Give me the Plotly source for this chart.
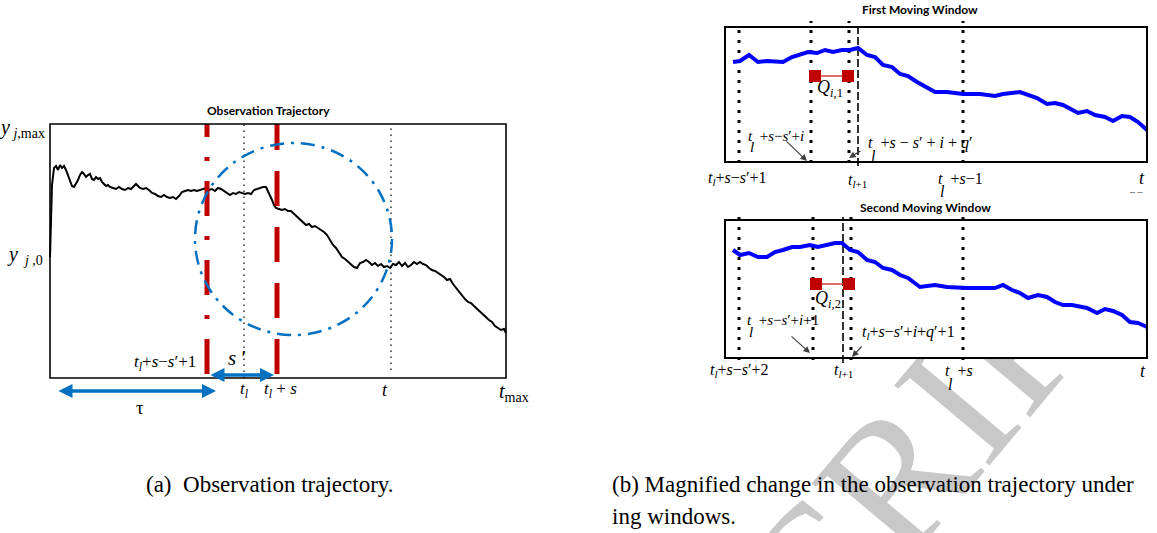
import plotly.graph_objects as go

W, H = 1157, 533
SERIF = "Liberation Serif"
SANS = "Lato"
NB = "\u00a0"

# ---------------- panel (a): observation trajectory ----------------
traj_t = [0, 1, 2, 4, 6, 8, 10, 12, 14, 16, 18, 20, 22, 24, 26, 28, 30, 32, 34, 36,
          38, 40, 42, 44, 46, 48, 50, 52, 54, 56, 58, 60, 63, 66, 69, 72, 75, 78, 81, 84,
          86, 88, 90, 93, 96, 99, 102, 105, 108, 111, 114, 117, 120, 123, 126, 129, 132, 135, 138, 141,
          144, 147, 150, 153, 156, 159, 162, 165, 168, 171, 174, 177, 180, 183, 186, 189, 192, 195, 198, 201,
          204, 207, 210, 213, 216, 218, 220, 222, 224, 226, 229, 232, 235, 238, 241, 244, 247, 250, 253, 256,
          259, 262, 265, 268, 271, 274, 277, 280, 283, 286, 289, 292, 295, 298, 301, 304, 307, 310, 313, 316,
          319, 322, 325, 328, 331, 334, 337, 340, 343, 346, 349, 352, 355, 358, 361, 364, 367, 370, 373, 376,
          379, 382, 385, 388, 391, 394, 397, 400, 403, 406, 409, 412, 415, 418, 421, 424, 427, 430, 433, 436,
          439, 442, 445, 448, 451, 454, 456]
traj_y = [121, 158, 193, 210, 212, 208, 213, 210, 212, 208, 203, 198, 192, 191, 194, 198, 203, 206, 204, 201,
          203, 204, 199, 198, 201, 199, 200, 196, 194, 192, 193, 191, 190, 189, 191, 189, 188, 190, 189, 192,
          194, 192, 190, 189, 190, 188, 185, 184, 182, 181, 183, 181, 180, 181, 179, 182, 186, 187, 188, 187,
          188, 187, 188, 189, 190, 188, 189, 187, 190, 189, 187, 185, 183, 185, 184, 186, 185, 184, 185, 184,
          188, 189, 190, 191, 191, 187, 182, 178, 173, 170, 169, 168, 169, 167, 167, 164, 161, 158, 156, 153,
          154, 151, 152, 150, 148, 146, 143, 138, 133, 130, 126, 121, 119, 116, 114, 111, 110, 115, 116, 118,
          116, 113, 115, 112, 114, 111, 112, 110, 114, 113, 116, 112, 115, 111, 113, 116, 114, 116, 114, 113,
          110, 108, 107, 105, 103, 101, 98, 99, 94, 90, 86, 82, 79, 76, 75, 72, 69, 66, 63, 61,
          58, 56, 52, 50, 48, 49, 45]
a_tmax = 456
a_ymax = 254
mark_start = 157   # t_l + s - s' + 1
mark_tl = 194      # t_l
mark_tls = 227     # t_l + s
mark_t = 341       # t
level_ymax = 250
level_y0 = 123
circle_t = [145, 342]
circle_y = [43, 235]
tau_span = [7, 166]
sprime_span = [159, 224]

# ---------------- panel (b): moving windows ----------------
w1_x = [8, 15, 24, 33, 42, 50, 58, 67, 75, 83, 92, 100, 108, 117, 125, 133, 142, 150, 158, 167,
        175, 183, 192, 202, 210, 222, 238, 255, 270, 278, 295, 312, 322, 330, 338, 353, 362, 370, 380, 388,
        397, 405, 413, 422]
w1_y = [100, 101, 107, 100, 101, 100, 100, 105, 107, 110, 109, 112, 110, 112, 112, 114, 107, 105, 97, 95,
        88, 86, 80, 74, 70, 70, 68, 68, 66, 68, 70, 64, 58, 59, 57, 49, 51, 47, 45, 41,
        46, 45, 40, 32]
w1_dotted = [14, 86, 124, 238]
w1_dotted_top = [134, 141, 141, 141]
w1_dashed = 133
w1_q_x = [90, 123]
w1_q_y = [86, 86]
w1_box = [422, 135]

w2_x = [8, 15, 24, 33, 42, 50, 58, 67, 75, 85, 93, 102, 110, 117, 125, 133, 142, 150, 158, 167,
        175, 183, 195, 210, 222, 242, 252, 260, 270, 278, 287, 295, 303, 313, 322, 330, 338, 347, 362, 372,
        380, 388, 397, 405, 413, 422]
w2_y = [108, 103, 105, 101, 101, 106, 108, 111, 111, 113, 111, 113, 115, 115, 108, 106, 98, 96, 90, 88,
        83, 80, 71, 73, 71, 70, 70, 71, 70, 73, 68, 65, 60, 63, 61, 56, 53, 53, 50, 45,
        49, 47, 43, 36, 35, 31]
w2_dotted = [14, 88, 126, 238]
w2_dotted_top = [143, 143, 143, 143]
w2_dashed = 118
w2_q_x = [91, 124]
w2_q_y = [74, 74]
w2_box = [422, 138]

# ---------------- figure ----------------
fig = go.Figure()

RED = "#C00000"
BLUE_A = "#0070C0"

# panel (a)
fig.add_trace(go.Scatter(x=traj_t, y=traj_y, mode="lines", line=dict(color="black", width=2),
                         xaxis="x", yaxis="y", hoverinfo="skip"))
fig.add_trace(go.Scatter(x=[mark_start, mark_start], y=[4, a_ymax], mode="lines",
                         line=dict(color=RED, width=5, dash="35px,20px,4px,20px"),
                         xaxis="x", yaxis="y", hoverinfo="skip"))
fig.add_trace(go.Scatter(x=[mark_tls, mark_tls], y=[4, a_ymax], mode="lines",
                         line=dict(color=RED, width=5, dash="35px,21px"),
                         xaxis="x", yaxis="y", hoverinfo="skip"))
for m, lo in [(mark_tl, 0), (mark_t, 8)]:
    fig.add_trace(go.Scatter(x=[m, m], y=[lo, a_ymax], mode="lines",
                             line=dict(color="black", width=1.2, dash="1.5px,4.5px"),
                             xaxis="x", yaxis="y", hoverinfo="skip"))

# panel (b) windows
def add_window(xs, ys, dotted, dotted_top, dashed, qx, qy, xa, ya, lo):
    for d, top in zip(dotted, dotted_top):
        fig.add_trace(go.Scatter(x=[d, d], y=[lo, top], mode="lines",
                                 line=dict(color="black", width=3, dash="3px,7px"),
                                 xaxis=xa, yaxis=ya, hoverinfo="skip"))
    fig.add_trace(go.Scatter(x=[dashed, dashed], y=[lo - 3, top - 2], mode="lines",
                             line=dict(color="black", width=1.6, dash="8px,3px"),
                             xaxis=xa, yaxis=ya, hoverinfo="skip"))
    fig.add_trace(go.Scatter(x=xs, y=ys, mode="lines", line=dict(color="#0000FF", width=4),
                             xaxis=xa, yaxis=ya, hoverinfo="skip"))
    fig.add_trace(go.Scatter(x=qx, y=qy, mode="lines+markers",
                             line=dict(color="#D04040", width=1.5),
                             marker=dict(symbol="square", size=12, color=RED),
                             xaxis=xa, yaxis=ya, hoverinfo="skip"))

add_window(w1_x, w1_y, w1_dotted, w1_dotted_top, w1_dashed, w1_q_x, w1_q_y, "x2", "y2", -1)
add_window(w2_x, w2_y, w2_dotted, w2_dotted_top, w2_dashed, w2_q_x, w2_q_y, "x3", "y3", -2)

# ---------------- shapes ----------------
def px(x):
    return x / W

def py(y):
    return 1 - y / H

shapes = [
    # watermark (under everything)
    dict(type="rect", xref="paper", yref="paper", x0=px(922), x1=px(938), y0=py(412), y1=py(396),
         line=dict(width=0), fillcolor="rgba(0,0,0,0)", layer="below",
         label=dict(text="CRIPT", font=dict(family=SERIF, size=190, color="#c8c8c8"),
                    textangle=-50, textposition="middle center")),
    # the windows' figure area hides the watermark
    dict(type="rect", xref="paper", yref="paper", x0=px(700), x1=px(1157), y0=py(359), y1=1.0,
         line=dict(width=0), fillcolor="white", layer="below"),
    # left frame and circle
    dict(type="rect", xref="x", yref="y", x0=0, x1=a_tmax, y0=0, y1=a_ymax,
         line=dict(color="black", width=1.6), layer="above"),
    dict(type="circle", xref="x", yref="y", x0=circle_t[0], x1=circle_t[1], y0=circle_y[0], y1=circle_y[1],
         line=dict(color=BLUE_A, width=2.5, dash="14px,7px,3px,7px")),
    # window frames
    dict(type="rect", xref="x2", yref="y2", x0=0, x1=w1_box[0], y0=0, y1=w1_box[1],
         line=dict(color="black", width=2), layer="above"),
    dict(type="rect", xref="x3", yref="y3", x0=0, x1=w2_box[0], y0=0, y1=w2_box[1],
         line=dict(color="black", width=2), layer="above"),
]

# ---------------- annotations ----------------
ann = []

def txt(x, y, text, ref="", size=17, xanchor="center", family=SERIF, color="black"):
    ann.append(dict(x=x, y=y, xref="x" + ref, yref="y" + ref, text=text, showarrow=False,
                    xanchor=xanchor, yanchor="middle", font=dict(family=family, size=size, color=color)))

def arrow(head, tail, ref="", color="#404040", width=1.2, size=1.1, both=False):
    d = dict(x=head[0], y=head[1], ax=tail[0], ay=tail[1], xref="x" + ref, yref="y" + ref,
             axref="x" + ref, ayref="y" + ref, text="", showarrow=True, arrowhead=2,
             arrowsize=size, arrowwidth=width, arrowcolor=color)
    if both:
        d.update(arrowside="end+start", startarrowhead=2, startarrowsize=size)
    ann.append(d)

I = lambda s: "<i>" + s + "</i>"

# panel (a)
txt(218, 268, "<b>Observation Trajectory</b>", size=12, family=SANS)
txt(-3, level_ymax, I("y") + "<sub>" + NB + I("j") + ",max</sub>", size=20, xanchor="right")
txt(-5, level_y0, I("y") + "<sub>" + NB + NB + I("j") + NB + ",0</sub>", size=20, xanchor="right")
txt(115, 15, I("t") + "<sub>" + I("l") + "</sub>+" + I("s") + "−" + I("s") + "′+1", size=17)
txt(187, 20, I("s") + NB + "′", size=21)
txt(mark_tl, -12, I("t") + "<sub>" + I("l") + "</sub>", size=17)
txt(mark_tls + 3, -12, I("t") + "<sub>" + I("l") + "</sub>" + NB + "+" + NB + I("s"), size=17)
txt(mark_t - 6, -12, I("t"), size=18)
txt(a_tmax - 9, -14, I("t") + "<sub>max</sub>", size=20, xanchor="left")
txt(90, -29, "τ", size=19)
arrow((tau_span[1], -13), (tau_span[0], -13), color=BLUE_A, width=3.5, size=0.8, both=True)
arrow((sprime_span[1], 3), (sprime_span[0], 3), color=BLUE_A, width=3.5, size=0.8, both=True)

# window 1
txt(195, 152, "<b>First Moving Window</b>", ref="2", size=12, family=SANS)
txt(105, 74, I("Q") + "<sub>" + I("i") + ",1</sub>", ref="2", size=18)
txt(21, 26, I("t") + NB * 2 + "+" + I("s") + "−" + I("s") + "′+" + I("i"), ref="2", size=15, xanchor="left")
txt(27, 15, I("l"), ref="2", size=15)
arrow((82, 1), (60, 22), ref="2")
txt(141, 19, I("t") + NB * 2 + "+" + I("s") + NB + "−" + NB + I("s") + "′" + NB + "+" + NB + I("i")
    + NB + "+" + NB + I("q") + "′", ref="2", size=16, xanchor="left")
txt(148, 6, I("l"), ref="2", size=16)
arrow((124, 4), (137, 12), ref="2")
txt(12, -16, I("t") + "<sub>" + I("l") + "</sub>+" + I("s") + "−" + I("s") + "′+1", ref="2", size=16)
txt(w1_dashed - 1, -18, I("t") + "<sub>" + I("l") + "+1</sub>", ref="2", size=16)
txt(211, -16, I("t") + NB * 2 + "+" + I("s") + "−1", ref="2", size=16, xanchor="left")
txt(217, -29, I("l"), ref="2", size=16)
txt(417, -16, I("t"), ref="2", size=18)

# window 2
txt(200, 151, "<b>Second Moving Window</b>", ref="3", size=12, family=SANS)
txt(103, 59, I("Q") + "<sub>" + I("i") + ",2</sub>", ref="3", size=18)
txt(20, 38, I("t") + NB * 2 + "+" + I("s") + "−" + I("s") + "′+" + I("i") + "+1", ref="3", size=15, xanchor="left")
txt(26, 26, I("l"), ref="3", size=15)
arrow((85, 5), (65, 23), ref="3")
txt(135, 26, I("t") + "<sub>" + I("l") + "</sub>+" + I("s") + "−" + I("s") + "′+" + I("i") + "+" + I("q")
    + "′+1", ref="3", size=16, xanchor="left")
arrow((127, 1), (138, 13), ref="3")
txt(14, -12, I("t") + "<sub>" + I("l") + "</sub>+" + I("s") + "−" + I("s") + "′+2", ref="3", size=16)
txt(w2_dashed, -12, I("t") + "<sub>" + I("l") + "+1</sub>", ref="3", size=16)
txt(218, -12, I("t") + NB * 2 + "+" + I("s"), ref="3", size=16, xanchor="left")
txt(225, -26, I("l"), ref="3", size=16)
txt(418, -13, I("t"), ref="3", size=18)

# captions
cap = dict(showarrow=False, xref="paper", yref="paper", yanchor="middle",
           font=dict(family=SERIF, size=23, color="black"))
ann.append(dict(cap, x=px(270), y=py(484), xanchor="center", text="(a)" + NB + " Observation trajectory."))
ann.append(dict(cap, x=px(610), y=py(484), xanchor="left",
                text="(b) Magnified change in the observation trajectory under"))
ann.append(dict(cap, x=px(610), y=py(516), xanchor="left", text="ing windows."))
ann.append(dict(showarrow=False, xref="paper", yref="paper", x=px(1146), y=py(192), text="– –",
                font=dict(family=SERIF, size=10, color="#333333")))

# ---------------- layout ----------------
noax = dict(showticklabels=False, ticks="", showgrid=False, zeroline=False, fixedrange=True,
            visible=False)
fig.update_layout(
    width=W, height=H, margin=dict(l=0, r=0, t=0, b=0),
    paper_bgcolor="white", plot_bgcolor="rgba(0,0,0,0)", showlegend=False,
    xaxis=dict(domain=[0.0, px(560)], range=[-50, 510], anchor="y", **noax),
    yaxis=dict(domain=[py(430), py(90)], range=[-52, 288], anchor="x", **noax),
    xaxis2=dict(domain=[px(700), 1.0], range=[-25, 432], anchor="y2", **noax),
    yaxis2=dict(domain=[py(199), py(2)], range=[-37, 160], anchor="x2", **noax),
    xaxis3=dict(domain=[px(700), 1.0], range=[-25, 432], anchor="y3", **noax),
    yaxis3=dict(domain=[py(396), py(201)], range=[-38, 157], anchor="x3", **noax),
    shapes=shapes,
    annotations=ann,
)

fig.write_html("out.html")
